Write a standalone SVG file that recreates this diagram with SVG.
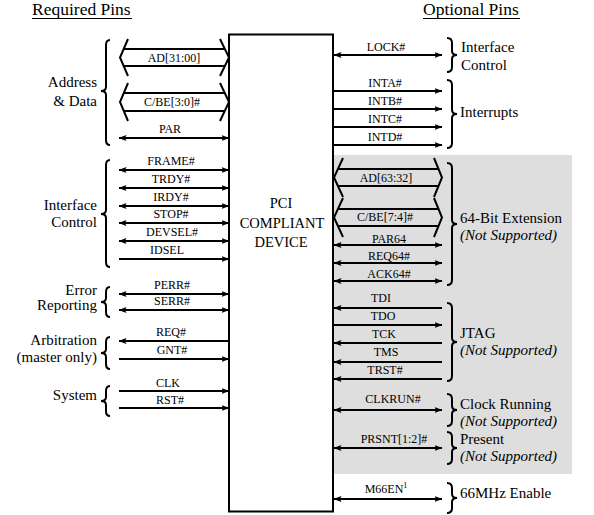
<svg xmlns="http://www.w3.org/2000/svg" width="594" height="515" viewBox="0 0 594 515" font-family="'Liberation Serif', Tinos, 'Times New Roman', Times, 'Nimbus Roman', 'Nimbus Roman No9 L', FreeSerif, 'Noto Serif', 'DejaVu Serif', serif">
<style>
text{font-family:'Liberation Serif', Tinos, 'Times New Roman', Times, 'Nimbus Roman', 'Nimbus Roman No9 L', FreeSerif, 'Noto Serif', 'DejaVu Serif', serif;fill:#000}
.pin{font-size:12px;text-anchor:middle}
.grp{font-size:15px}
.gl{text-anchor:end}
.it{font-style:italic}
.hdr{font-size:17.5px}
.w{stroke:#000;stroke-width:2;fill:none}
.brace{stroke:#000;stroke-width:2;fill:none}
.bi{marker-start:url(#ah);marker-end:url(#ah)}
.out{marker-end:url(#ah)}
.in{marker-start:url(#ah)}
</style>
<defs>
<marker id="ah" viewBox="0 0 8 6" refX="7.5" refY="3" markerWidth="8" markerHeight="6" markerUnits="userSpaceOnUse" orient="auto-start-reverse">
<path d="M0,0 L8,3 L0,6 L1.5,3 z" fill="#000"/>
</marker>
</defs>
<rect width="594" height="515" fill="#fff"/>
<rect id="gray" x="333" y="155" width="239" height="319" fill="#dedede"/>

<g id="headers">
<text class="hdr" x="32" y="15">Required Pins</text>
<line x1="32" y1="18.5" x2="132" y2="18.5" stroke="#000" stroke-width="1"/>
<text class="hdr" x="423" y="15">Optional Pins</text>
<line x1="423" y1="18.5" x2="520" y2="18.5" stroke="#000" stroke-width="1"/>
</g>

<g id="device">
<rect x="229" y="34.5" width="104" height="477" fill="none" stroke="#000" stroke-width="2"/>
<text x="281" y="208" font-size="14.5" text-anchor="middle">PCI</text>
<text x="282" y="228" font-size="14.5" text-anchor="middle">COMPLIANT</text>
<text x="281" y="246.5" font-size="14.5" text-anchor="middle">DEVICE</text>
</g>

<g id="connectors">
<path class="w" d="M128,39 L120,57.5 L128,76 M220,39 L229,57.5 L220,76 M123.7,49 L224.9,49 M123.7,66 L224.9,66"/>
<path class="w" d="M128,83 L120,102 L128,121 M220,83 L229,102 L220,121 M123.8,93 L224.7,93 M123.8,111 L224.7,111"/>
<line class="w bi" x1="119" y1="138" x2="229" y2="138"/>
<line class="w bi" x1="119" y1="170" x2="229" y2="170"/>
<line class="w bi" x1="119" y1="188" x2="229" y2="188"/>
<line class="w bi" x1="119" y1="206" x2="229" y2="206"/>
<line class="w bi" x1="119" y1="223" x2="229" y2="223"/>
<line class="w bi" x1="119" y1="241" x2="229" y2="241"/>
<line class="w out" x1="119" y1="259" x2="229" y2="259"/>
<line class="w bi" x1="119" y1="294" x2="229" y2="294"/>
<line class="w bi" x1="119" y1="310" x2="229" y2="310"/>
<line class="w in" x1="119" y1="341" x2="229" y2="341"/>
<line class="w out" x1="119" y1="359" x2="229" y2="359"/>
<line class="w out" x1="119" y1="391" x2="229" y2="391"/>
<line class="w out" x1="119" y1="408" x2="229" y2="408"/>
<path class="w" d="M343,158 L334,177.5 L343,197 M434,158 L442,177.5 L434,197 M337.9,169 L438.5,169 M337.9,186 L438.5,186"/>
<path class="w" d="M343,198 L334,217.5 L343,237 M434,198 L442,217.5 L434,237 M337.9,209 L438.5,209 M337.9,226 L438.5,226"/>
<line class="w bi" x1="334" y1="55" x2="442" y2="55"/>
<line class="w out" x1="333" y1="91" x2="442" y2="91"/>
<line class="w out" x1="333" y1="109" x2="442" y2="109"/>
<line class="w out" x1="333" y1="127" x2="442" y2="127"/>
<line class="w out" x1="333" y1="145" x2="442" y2="145"/>
<line class="w bi" x1="334" y1="245" x2="442" y2="245"/>
<line class="w bi" x1="334" y1="263" x2="442" y2="263"/>
<line class="w bi" x1="334" y1="281" x2="442" y2="281"/>
<line class="w in" x1="334" y1="308" x2="442" y2="308"/>
<line class="w out" x1="333" y1="325" x2="442" y2="325"/>
<line class="w in" x1="334" y1="343" x2="442" y2="343"/>
<line class="w in" x1="334" y1="362" x2="442" y2="362"/>
<line class="w in" x1="334" y1="379" x2="442" y2="379"/>
<line class="w bi" x1="334" y1="410" x2="442" y2="410"/>
<line class="w bi" x1="334" y1="448" x2="442" y2="448"/>
<line class="w bi" x1="334" y1="499" x2="442" y2="499"/>
</g>

<g id="pin-labels">
<text class="pin" x="174" y="62">AD[31:00]</text>
<text class="pin" x="172" y="106">C/BE[3:0]#</text>
<text class="pin" x="170" y="133">PAR</text>
<text class="pin" x="171" y="165">FRAME#</text>
<text class="pin" x="171" y="183">TRDY#</text>
<text class="pin" x="171" y="201">IRDY#</text>
<text class="pin" x="171" y="218">STOP#</text>
<text class="pin" x="172" y="236">DEVSEL#</text>
<text class="pin" x="167" y="254">IDSEL</text>
<text class="pin" x="172" y="289">PERR#</text>
<text class="pin" x="172" y="305">SERR#</text>
<text class="pin" x="171" y="336">REQ#</text>
<text class="pin" x="172" y="354">GNT#</text>
<text class="pin" x="168" y="387">CLK</text>
<text class="pin" x="170" y="404">RST#</text>

<text class="pin" x="386" y="50.5">LOCK#</text>
<text class="pin" x="385" y="86.5">INTA#</text>
<text class="pin" x="385" y="104.5">INTB#</text>
<text class="pin" x="385" y="122.5">INTC#</text>
<text class="pin" x="385" y="140.5">INTD#</text>
<text class="pin" x="386" y="182">AD[63:32]</text>
<text class="pin" x="385" y="221">C/BE[7:4]#</text>
<text class="pin" x="389" y="243">PAR64</text>
<text class="pin" x="389" y="260">REQ64#</text>
<text class="pin" x="389" y="278">ACK64#</text>
<text class="pin" x="381" y="302">TDI</text>
<text class="pin" x="383" y="320">TDO</text>
<text class="pin" x="384" y="338">TCK</text>
<text class="pin" x="386" y="356">TMS</text>
<text class="pin" x="385" y="374">TRST#</text>
<text class="pin" x="393" y="403">CLKRUN#</text>
<text class="pin" x="394" y="443">PRSNT[1:2]#</text>
<text class="pin" x="386" y="493">M66EN<tspan font-size="8" dy="-5">1</tspan></text>
</g>

<g id="group-required">
<path class="brace" d="M110,40 Q106,40 106,45 L106,87 Q106,91 101,91 Q106,91 106,95 L106,140 Q106,145 110,145"/>
<text class="grp gl" x="97" y="87">Address</text>
<text class="grp gl" x="97" y="106">&amp; Data</text>
<path class="brace" d="M110,160 Q106,160 106,165 L106,210 Q106,214 101,214 Q106,214 106,218 L106,262 Q106,267 110,267"/>
<text class="grp gl" x="97" y="210">Interface</text>
<text class="grp gl" x="97" y="227">Control</text>
<path class="brace" d="M110,287 Q106,287 106,292 L106,298 Q106,302 101,302 Q106,302 106,306 L106,312 Q106,317 110,317"/>
<text class="grp gl" x="97" y="295">Error</text>
<text class="grp gl" x="97" y="310">Reporting</text>
<path class="brace" d="M110,337 Q106,337 106,342 L106,349 Q106,353 101,353 Q106,353 106,357 L106,364 Q106,369 110,369"/>
<text class="grp gl" x="97" y="345">Arbitration</text>
<text class="grp gl" x="97" y="362">(master only)</text>
<path class="brace" d="M110,386 Q106,386 106,391 L106,397 Q106,401 101,401 Q106,401 106,405 L106,411 Q106,416 110,416"/>
<text class="grp gl" x="97" y="400">System</text>
</g>

<g id="group-optional">
<path class="brace" d="M447,38 Q452,38 452,43 L452,51 Q452,55 457,55 Q452,55 452,59 L452,67 Q452,72 447,72"/>
<text class="grp" x="461" y="52">Interface</text>
<text class="grp" x="461" y="70">Control</text>
<path class="brace" d="M447,80 Q452,80 452,85 L452,110 Q452,114 457,114 Q452,114 452,118 L452,143 Q452,148 447,148"/>
<text class="grp" x="460" y="117">Interrupts</text>
<path class="brace" d="M447,163 Q452,163 452,168 L452,220 Q452,224 457,224 Q452,224 452,228 L452,280 Q452,285 447,285"/>
<text class="grp" x="460" y="223">64-Bit Extension</text>
<text class="grp it" x="460" y="240">(Not Supported)</text>
<path class="brace" d="M447,303 Q452,303 452,308 L452,338 Q452,342 457,342 Q452,342 452,346 L452,376 Q452,381 447,381"/>
<text class="grp" x="460" y="338">JTAG</text>
<text class="grp it" x="460" y="355">(Not Supported)</text>
<path class="brace" d="M447,394 Q452,394 452,399 L452,406 Q452,410 457,410 Q452,410 452,414 L452,421 Q452,426 447,426"/>
<text class="grp" x="460" y="409">Clock Running</text>
<text class="grp it" x="460" y="426">(Not Supported)</text>
<path class="brace" d="M447,432 Q452,432 452,437 L452,444 Q452,448 457,448 Q452,448 452,452 L452,459 Q452,464 447,464"/>
<text class="grp" x="460" y="444">Present</text>
<text class="grp it" x="460" y="461">(Not Supported)</text>
<path class="brace" d="M447,483 Q452,483 452,488 L452,494 Q452,498 457,498 Q452,498 452,502 L452,508 Q452,513 447,513"/>
<text class="grp" x="460" y="498">66MHz Enable</text>
</g>
</svg>
